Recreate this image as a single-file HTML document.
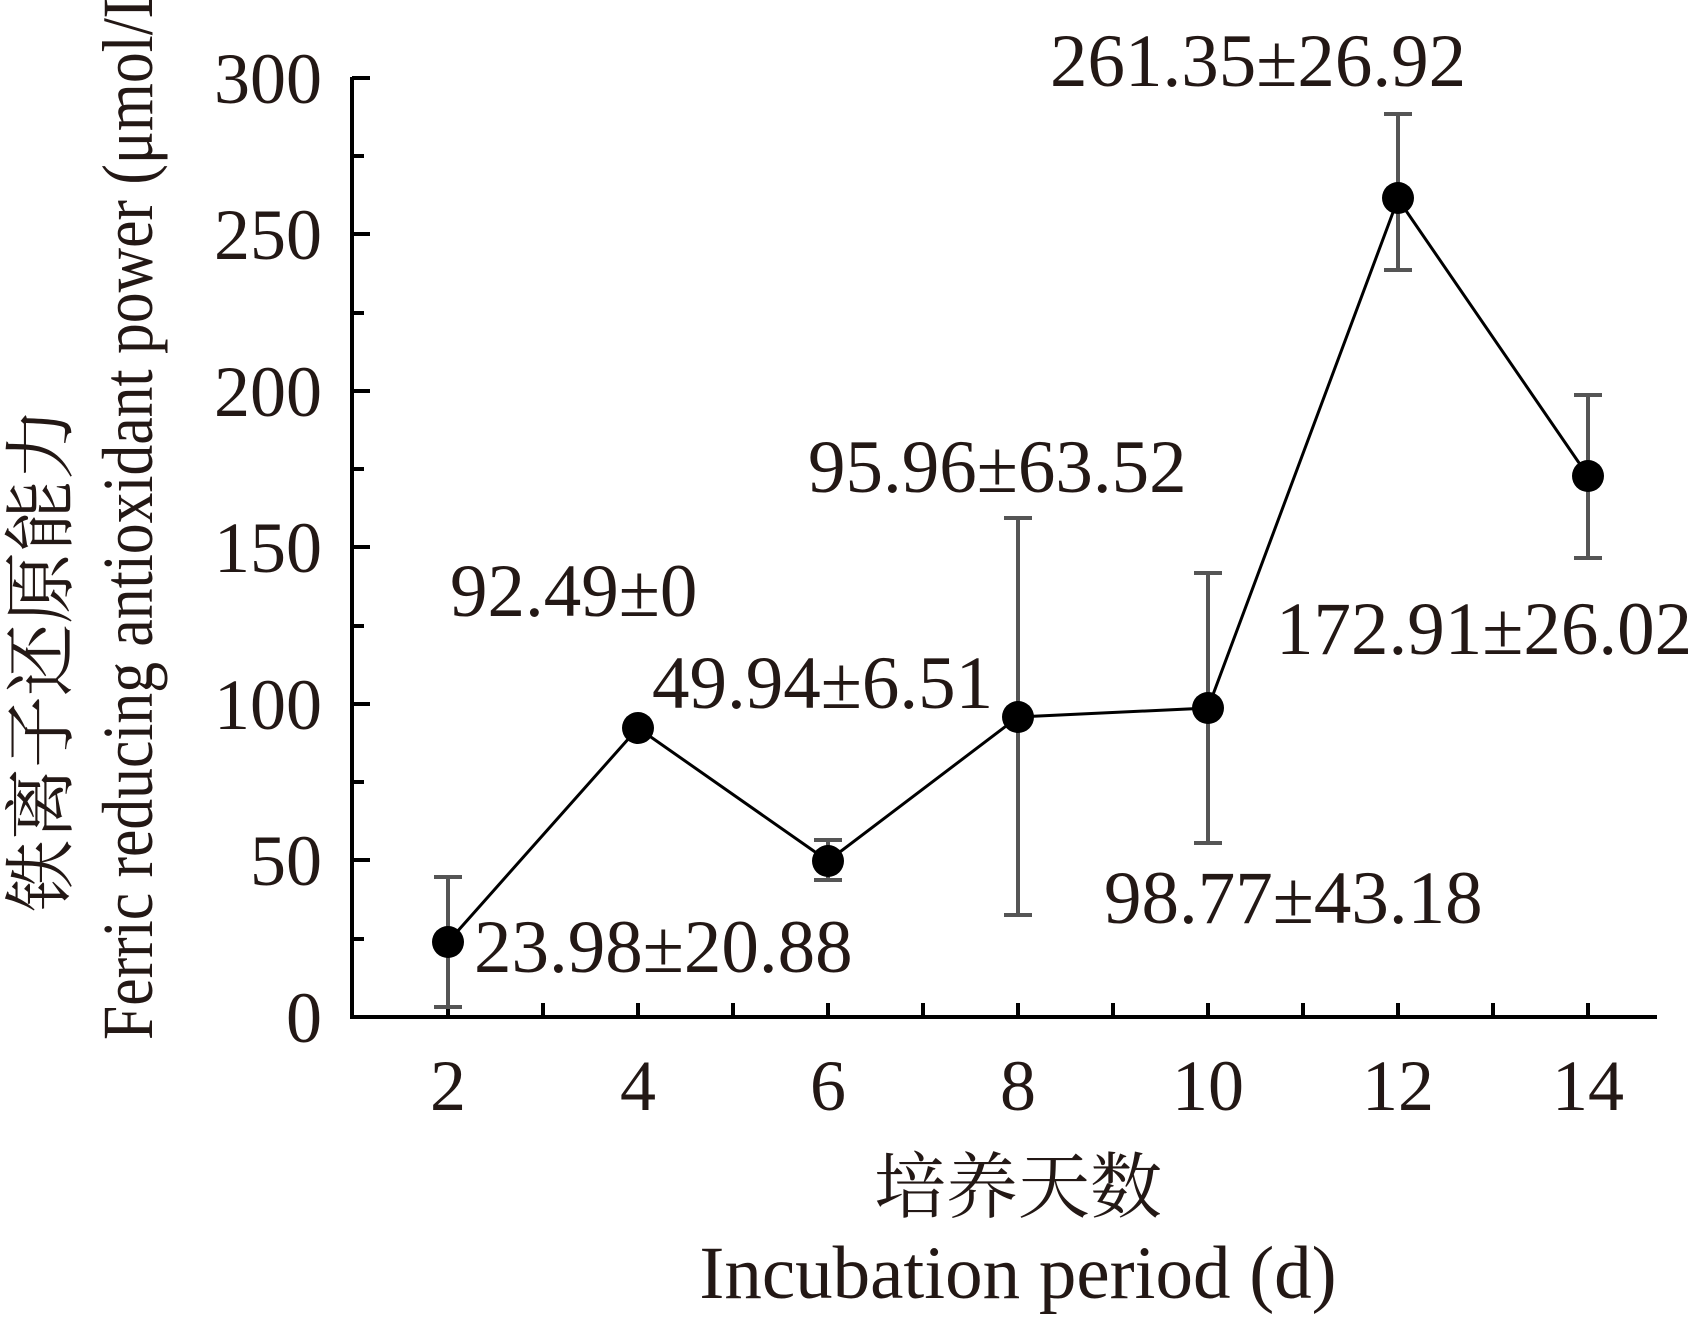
<!DOCTYPE html><html><head><style>body{margin:0;background:#fff}svg{display:block}</style></head><body>
<svg width="1689" height="1327" viewBox="0 0 1689 1327" xmlns="http://www.w3.org/2000/svg" font-family="'Liberation Serif','Noto Serif CJK SC',serif" fill="#231815">
<g stroke="#000" stroke-width="4" fill="none">
<line x1="352" y1="77" x2="352" y2="1019"/>
<line x1="350" y1="1017" x2="1657" y2="1017"/>
</g>
<g stroke="#000" stroke-width="4">
<line x1="352" y1="1017" x2="370" y2="1017"/><line x1="352" y1="939" x2="364" y2="939"/>
<line x1="352" y1="860" x2="370" y2="860"/><line x1="352" y1="782" x2="364" y2="782"/>
<line x1="352" y1="704" x2="370" y2="704"/><line x1="352" y1="626" x2="364" y2="626"/>
<line x1="352" y1="547" x2="370" y2="547"/><line x1="352" y1="469" x2="364" y2="469"/>
<line x1="352" y1="391" x2="370" y2="391"/><line x1="352" y1="313" x2="364" y2="313"/>
<line x1="352" y1="234" x2="370" y2="234"/><line x1="352" y1="156" x2="364" y2="156"/>
<line x1="352" y1="78" x2="370" y2="78"/>
<line x1="543" y1="1017" x2="543" y2="1003"/><line x1="638" y1="1017" x2="638" y2="1003"/>
<line x1="733" y1="1017" x2="733" y2="1003"/><line x1="828" y1="1017" x2="828" y2="1003"/>
<line x1="923" y1="1017" x2="923" y2="1003"/><line x1="1018" y1="1017" x2="1018" y2="1003"/>
<line x1="1113" y1="1017" x2="1113" y2="1003"/><line x1="1208" y1="1017" x2="1208" y2="1003"/>
<line x1="1303" y1="1017" x2="1303" y2="1003"/><line x1="1398" y1="1017" x2="1398" y2="1003"/>
<line x1="1493" y1="1017" x2="1493" y2="1003"/><line x1="1588" y1="1017" x2="1588" y2="1003"/>
<line x1="448" y1="1017" x2="448" y2="1003"/>
</g>
<g font-size="72" text-anchor="end">
<text x="322" y="1042">0</text><text x="322" y="885">50</text><text x="322" y="729">100</text>
<text x="322" y="572">150</text><text x="322" y="416">200</text><text x="322" y="259">250</text><text x="322" y="103">300</text>
</g>
<g font-size="72" text-anchor="middle">
<text x="448" y="1110">2</text><text x="638" y="1110">4</text><text x="828" y="1110">6</text>
<text x="1018" y="1110">8</text><text x="1208" y="1110">10</text><text x="1398" y="1110">12</text><text x="1588" y="1110">14</text>
<text x="1018" y="1212" font-size="72">培养天数</text>
<text x="1018" y="1298" font-size="75">Incubation period (d)</text>
</g>
<text transform="translate(66,660) rotate(-90)" font-size="72" text-anchor="middle">铁离子还原能力</text>
<text transform="translate(152,1040) rotate(-90)" font-size="72" textLength="1080" lengthAdjust="spacingAndGlyphs">Ferric reducing antioxidant power (μmol/L)</text>
<g stroke="#555" stroke-width="4">
<line x1="448" y1="1007" x2="448" y2="877"/><line x1="434" y1="1007" x2="462" y2="1007"/><line x1="434" y1="877" x2="462" y2="877"/>
<line x1="828" y1="880" x2="828" y2="840"/><line x1="814" y1="880" x2="842" y2="880"/><line x1="814" y1="840" x2="842" y2="840"/>
<line x1="1018" y1="915" x2="1018" y2="518"/><line x1="1004" y1="915" x2="1032" y2="915"/><line x1="1004" y1="518" x2="1032" y2="518"/>
<line x1="1208" y1="843" x2="1208" y2="573"/><line x1="1194" y1="843" x2="1222" y2="843"/><line x1="1194" y1="573" x2="1222" y2="573"/>
<line x1="1398" y1="270" x2="1398" y2="114"/><line x1="1384" y1="270" x2="1412" y2="270"/><line x1="1384" y1="114" x2="1412" y2="114"/>
<line x1="1588" y1="558" x2="1588" y2="395"/><line x1="1574" y1="558" x2="1602" y2="558"/><line x1="1574" y1="395" x2="1602" y2="395"/>
</g>
<polyline fill="none" stroke="#000" stroke-width="3" points="448,942 638,728 828,861 1018,717 1208,708 1398,199 1588,476"/>
<g fill="#000">
<circle cx="448" cy="942" r="16"/><circle cx="638" cy="728" r="16"/><circle cx="828" cy="861" r="16"/>
<circle cx="1018" cy="717" r="16"/><circle cx="1208" cy="708" r="16"/><circle cx="1398" cy="198" r="16"/><circle cx="1588" cy="476" r="16"/>
</g>
<g font-size="75">
<text x="1050" y="86">261.35±26.92</text>
<text x="808" y="492">95.96±63.52</text>
<text x="450" y="616">92.49±0</text>
<text x="652" y="708">49.94±6.51</text>
<text x="1276" y="654">172.91±26.02</text>
<text x="1104" y="923">98.77±43.18</text>
<text x="474" y="972">23.98±20.88</text>
</g>
</svg></body></html>
